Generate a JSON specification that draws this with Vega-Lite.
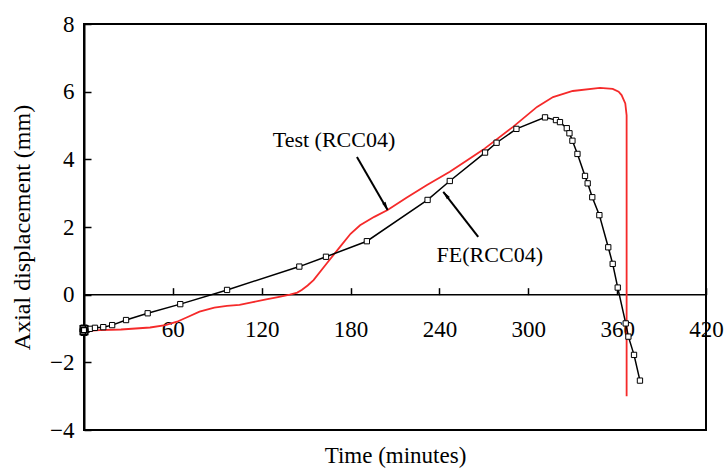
{
  "$schema": "https://vega.github.io/schema/vega-lite/v6.json",
  "width": 622,
  "height": 406,
  "autosize": {"type": "none"},
  "padding": {"left": 84, "top": 24, "right": 19, "bottom": 39},
  "background": "white",
  "config": {"view": {"stroke": "#000", "strokeWidth": 2}, "font": "Liberation Serif"},
  "datasets": {
    "test": [
      {"i": 0, "t": 0, "v": -1.08}, {"i": 1, "t": 10.8, "v": -1.05}, {"i": 2, "t": 25, "v": -1.03},
      {"i": 3, "t": 44.6, "v": -0.97}, {"i": 4, "t": 55, "v": -0.9}, {"i": 5, "t": 62.8, "v": -0.8},
      {"i": 6, "t": 70, "v": -0.66}, {"i": 7, "t": 78, "v": -0.5}, {"i": 8, "t": 88, "v": -0.38},
      {"i": 9, "t": 96.5, "v": -0.33}, {"i": 10, "t": 105, "v": -0.3}, {"i": 11, "t": 114, "v": -0.22},
      {"i": 12, "t": 123, "v": -0.14}, {"i": 13, "t": 131, "v": -0.07}, {"i": 14, "t": 139, "v": 0},
      {"i": 15, "t": 144, "v": 0.06}, {"i": 16, "t": 147, "v": 0.14}, {"i": 17, "t": 151, "v": 0.27},
      {"i": 18, "t": 155, "v": 0.43}, {"i": 19, "t": 164, "v": 0.93}, {"i": 20, "t": 173, "v": 1.42},
      {"i": 21, "t": 180, "v": 1.8}, {"i": 22, "t": 186.4, "v": 2.05}, {"i": 23, "t": 196, "v": 2.3},
      {"i": 24, "t": 205, "v": 2.5}, {"i": 25, "t": 218, "v": 2.87}, {"i": 26, "t": 231.6, "v": 3.24},
      {"i": 27, "t": 247, "v": 3.63}, {"i": 28, "t": 258, "v": 3.95}, {"i": 29, "t": 269.4, "v": 4.28},
      {"i": 30, "t": 289.7, "v": 4.96}, {"i": 31, "t": 305.9, "v": 5.55}, {"i": 32, "t": 316.7, "v": 5.84},
      {"i": 33, "t": 330, "v": 6.02}, {"i": 34, "t": 348.4, "v": 6.11}, {"i": 35, "t": 357, "v": 6.08},
      {"i": 36, "t": 361, "v": 6.0}, {"i": 37, "t": 363, "v": 5.9}, {"i": 38, "t": 365.5, "v": 5.65},
      {"i": 39, "t": 366.4, "v": 5.3}, {"i": 40, "t": 366.4, "v": -3.0}
    ],
    "fe": [
      {"t": 0, "v": -1.05}, {"t": 0.5, "v": -1.05}, {"t": 1, "v": -1.04}, {"t": 1.5, "v": -1.04},
      {"t": 2, "v": -1.03}, {"t": 4, "v": -1.01}, {"t": 7.4, "v": -0.98}, {"t": 13, "v": -0.96},
      {"t": 19, "v": -0.9}, {"t": 28.4, "v": -0.75}, {"t": 43, "v": -0.55}, {"t": 65, "v": -0.28},
      {"t": 96.6, "v": 0.14}, {"t": 145.4, "v": 0.83}, {"t": 163.4, "v": 1.12}, {"t": 191, "v": 1.58},
      {"t": 232, "v": 2.8}, {"t": 247, "v": 3.36}, {"t": 270.8, "v": 4.2}, {"t": 278.6, "v": 4.49},
      {"t": 292, "v": 4.9}, {"t": 311.3, "v": 5.24}, {"t": 318.7, "v": 5.16}, {"t": 321.4, "v": 5.1},
      {"t": 326, "v": 4.92}, {"t": 327.8, "v": 4.77}, {"t": 329.8, "v": 4.55}, {"t": 333.2, "v": 4.16},
      {"t": 338.3, "v": 3.51}, {"t": 340.1, "v": 3.29}, {"t": 343.2, "v": 2.88}, {"t": 348, "v": 2.35},
      {"t": 354, "v": 1.4}, {"t": 357, "v": 0.91}, {"t": 360.4, "v": 0.21}, {"t": 365.8, "v": -0.85},
      {"t": 367.6, "v": -1.24}, {"t": 371.4, "v": -1.78}, {"t": 375.4, "v": -2.54}
    ],
    "feStart": [
      {"t": 0, "v": -0.98}, {"t": 0, "v": -1.12}, {"t": 0.8, "v": -1.0}, {"t": 0.8, "v": -1.1},
      {"t": -0.8, "v": -1.0}, {"t": -0.8, "v": -1.1}, {"t": 0, "v": -1.05}
    ],
    "zero": [{"t": 0, "v": 0}, {"t": 420, "v": 0}],
    "labels": [
      {"t": 168.8, "v": 4.57, "label": "Test (RCC04)"},
      {"t": 274, "v": 1.17, "label": "FE(RCC04)"}
    ],
    "arrows": [
      {"t": 184.3, "v": 4.07, "t2": 205, "v2": 2.5},
      {"t": 266.2, "v": 1.71, "t2": 242.6, "v2": 3.04}
    ],
    "headTest": [{"t": 203.9, "v": 2.61}],
    "headFE": [{"t": 244.3, "v": 2.95}]
  },
  "encoding": {
    "x": {
      "field": "t", "type": "quantitative",
      "scale": {"domain": [0, 420], "nice": false, "zero": false},
      "axis": {
        "title": "Time (minutes)", "values": [60, 120, 180, 240, 300, 360, 420],
        "offset": -135.33, "domain": false, "grid": false,
        "tickSize": -7, "tickColor": "#000", "tickWidth": 1.5,
        "labelPadding": 31, "labelFont": "Liberation Serif", "labelFontSize": 23, "labelColor": "#000",
        "labelFlush": false,
        "titleFont": "Liberation Serif", "titleFontSize": 23, "titleFontWeight": "normal", "titleColor": "#000",
        "titleX": 311, "titleY": 168, "titleBaseline": "alphabetic", "titleAlign": "center"
      }
    },
    "y": {
      "field": "v", "type": "quantitative",
      "scale": {"domain": [-4, 8], "nice": false, "zero": false},
      "axis": {
        "title": "Axial displacement (mm)", "values": [-4, -2, 0, 2, 4, 6, 8],
        "domain": true, "domainColor": "#000", "domainWidth": 2, "grid": false,
        "tickSize": -7, "tickColor": "#000", "tickWidth": 1.5,
        "labelPadding": 17, "labelFont": "Liberation Serif", "labelFontSize": 23, "labelColor": "#000",
        "labelFlush": false,
        "titleFont": "Liberation Serif", "titleFontSize": 24, "titleFontWeight": "normal", "titleColor": "#000",
        "titleX": -62, "titleY": 203, "titleAngle": -90, "titleBaseline": "middle", "titleAlign": "center"
      }
    }
  },
  "layer": [
    {"data": {"name": "zero"}, "mark": {"type": "line", "color": "#000", "strokeWidth": 1.5}},
    {
      "data": {"name": "test"},
      "mark": {"type": "line", "color": "#f52a2a", "strokeWidth": 1.8},
      "encoding": {"order": {"field": "i", "type": "quantitative"}}
    },
    {"data": {"name": "fe"}, "mark": {"type": "line", "color": "#000", "strokeWidth": 1.5}},
    {
      "data": {"name": "fe"},
      "mark": {"type": "point", "shape": "square", "size": 28, "filled": true, "fill": "#fff", "stroke": "#000", "strokeWidth": 1, "opacity": 1}
    },
    {
      "data": {"name": "feStart"},
      "mark": {"type": "point", "shape": "square", "size": 28, "filled": true, "fill": "#fff", "stroke": "#000", "strokeWidth": 1.5, "opacity": 1, "clip": false}
    },
    {
      "data": {"name": "arrows"},
      "mark": {"type": "rule", "color": "#000", "strokeWidth": 2},
      "encoding": {"x2": {"field": "t2"}, "y2": {"field": "v2"}}
    },
    {
      "data": {"name": "headTest"},
      "mark": {"type": "point", "shape": "M0,-1L0.45,1L-0.45,1Z", "size": 70, "filled": true, "color": "#000", "opacity": 1, "angle": 149.7}
    },
    {
      "data": {"name": "headFE"},
      "mark": {"type": "point", "shape": "M0,-1L0.45,1L-0.45,1Z", "size": 70, "filled": true, "color": "#000", "opacity": 1, "angle": 322}
    },
    {
      "data": {"name": "labels"},
      "mark": {"type": "text", "font": "Liberation Serif", "fontSize": 22, "color": "#000", "align": "center", "baseline": "middle"},
      "encoding": {"text": {"field": "label"}}
    }
  ]
}
